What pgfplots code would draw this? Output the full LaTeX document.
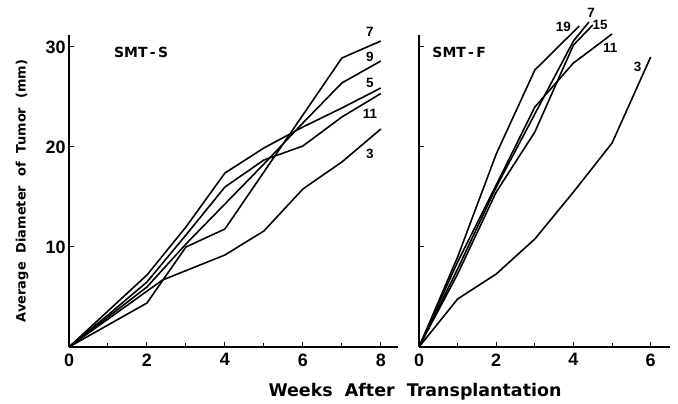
\documentclass[border=0pt]{standalone}
\usepackage{fontspec}
\setmainfont{Liberation Sans}
\newfontfamily\labfont{DejaVu Sans}
\usepackage{pgfplots}
\pgfplotsset{compat=1.18}

\pgfplotsset{
  panel/.style={
    scale only axis,
    height=312bp,
    ymin=0, ymax=31.2,
    axis x line=bottom, axis y line=left,
    axis line style={-, line width=1.1pt},
    tick align=inside,
    tick style={black, line width=1pt},
    major tick length=5bp, minor tick length=4bp,
    ytick={10,20,30},
    /pgf/number format/assume math mode=true,
    ticklabel style={font=\fontsize{18}{18}\selectfont\bfseries},
    xticklabel style={yshift=-3bp},
    clip=false,
  },
}
\tikzset{
  ser/.style={black, line width=1.6pt, mark=none, line join=round},
  num/.style={font=\fontsize{13.5}{13.5}\selectfont\bfseries},
  tag/.style={font=\labfont\fontsize{14}{14}\selectfont\bfseries},
}

\begin{document}
\begin{tikzpicture}
\useasboundingbox (0,0) rectangle (678bp,404bp);

% SMT-S
\begin{axis}[panel, at={(69bp,57bp)}, anchor=south west,
  width=329bp, xmin=0, xmax=8.44,
  xtick={0,2,4,6,8}, minor xtick={1,3,5,7}]
\addplot[ser] coordinates {(0,0) (1,2.2) (2,4.4) (3,10.0) (4,11.8) (5,17.5) (6,23.2) (7,28.9) (8,30.6)};
\addplot[ser] coordinates {(0,0) (1,3.0) (2,6.0) (3,10.3) (4,14.3) (5,18.3) (6,22.4) (7,26.4) (8,28.6)};
\addplot[ser] coordinates {(0,0) (1,3.6) (2,7.2) (3,12.0) (4,17.4) (5,19.9) (6,22.0) (7,23.9) (8,25.9)};
\addplot[ser] coordinates {(0,0) (1,3.2) (2,6.5) (3,11.2) (4,16.0) (5,18.7) (6,20.1) (7,23.0) (8,25.35)};
\addplot[ser] coordinates {(0,0) (2.4,6.7) (4,9.2) (5,11.6) (6,15.8) (7,18.5) (8,21.8)};
\node[tag] at (axis cs:1.85,29.5) {SMT\,-\,S};
\node[num] at (axis cs:7.72,31.5) {7};
\node[num] at (axis cs:7.72,29.0) {9};
\node[num] at (axis cs:7.72,26.4) {5};
\node[num] at (axis cs:7.72,23.3) {11};
\node[num] at (axis cs:7.72,19.3) {3};
\end{axis}

% SMT-F
\begin{axis}[panel, at={(419bp,57bp)}, anchor=south west,
  width=251bp, xmin=0, xmax=6.5,
  xtick={0,2,4,6}, minor xtick={1,3,5}, yticklabels={}]
\addplot[ser] coordinates {(0,0) (1,9.0) (2,19.3) (3,27.7) (4.15,32.1)};
\addplot[ser] coordinates {(0,0) (1,7.8) (2,16.0) (3,23.3) (4,30.6) (4.4,32.5)};
\addplot[ser] coordinates {(0,0) (1,7.3) (2,15.5) (3,21.5) (4,30.2) (4.5,32.2)};
\addplot[ser] coordinates {(0,0) (1,8.5) (2,16.2) (3,24.0) (4,28.4) (5,31.3)};
\addplot[ser] coordinates {(0,0) (1,4.8) (2,7.3) (3,10.8) (4,15.5) (5,20.4) (6,29.0)};
\node[tag] at (axis cs:1.04,29.5) {SMT\,-\,F};
\node[num] at (axis cs:3.74,32.0) {19};
\node[num] at (axis cs:4.46,33.4) {7};
\node[num] at (axis cs:4.69,32.2) {15};
\node[num] at (axis cs:4.95,29.9) {11};
\node[num] at (axis cs:5.66,28.0) {3};
\end{axis}

\node[font=\labfont\fontsize{17.5}{17.5}\selectfont\bfseries] at (415bp,12bp)
  {Weeks\ \ After\ \ Transplantation};
\node[rotate=90, font=\labfont\fontsize{13}{13}\selectfont\bfseries] at (22bp,213bp)
  {Average\ \ Diameter\ \ of\ \ Tumor\ \ (mm)};
\end{tikzpicture}
\end{document}
